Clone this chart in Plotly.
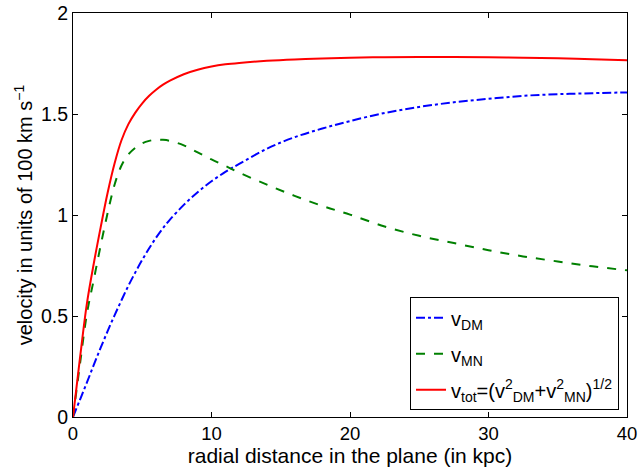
import plotly.graph_objects as go

# radial distance (kpc)
r = [0, 0.5, 1, 1.5, 2, 2.5, 3, 3.5, 4, 4.5, 5, 5.5, 6, 6.5, 7, 8, 9, 10, 11, 12,
     14, 16, 18, 20, 22.5, 25, 27.5, 30, 32.5, 35, 37.5, 40]

v_dm = [0, 0.085, 0.17, 0.258, 0.343, 0.425, 0.503, 0.578, 0.65, 0.716, 0.778, 0.835, 0.888,
        0.935, 0.977, 1.05, 1.113, 1.167, 1.213, 1.253,
        1.328, 1.385, 1.428, 1.465, 1.505, 1.535, 1.558, 1.575, 1.59, 1.598, 1.603, 1.607]

v_mn = [0, 0.26, 0.51, 0.68, 0.85, 1.01, 1.15, 1.245, 1.30, 1.333, 1.355, 1.367, 1.373,
        1.372, 1.367, 1.345, 1.31, 1.275, 1.243, 1.21,
        1.15, 1.095, 1.045, 1.002, 0.943, 0.897, 0.861, 0.826, 0.795, 0.770, 0.746, 0.726]

v_tot = [0, 0.29, 0.56, 0.76, 0.94, 1.11, 1.255, 1.37, 1.45, 1.507, 1.553, 1.59, 1.62,
         1.645, 1.665, 1.697, 1.719, 1.735, 1.746, 1.753,
         1.763, 1.77, 1.775, 1.779, 1.781, 1.782, 1.782, 1.781, 1.779, 1.776, 1.771, 1.766]

x_ticks = [0, 10, 20, 30, 40]
y_ticks = [0, 0.5, 1, 1.5, 2]
y_tick_labels = ["0", "0.5", "1", "1.5", "2"]

FONT = "Liberation Sans, Arial, Helvetica, sans-serif"

fig = go.Figure()
fig.add_trace(go.Scatter(x=r, y=v_dm, mode="lines", line_shape="spline",
                         name="v<sub>DM</sub>", legendgroup="a",
                         line=dict(color="#0000FF", width=2, dash="dashdot")))
fig.add_trace(go.Scatter(x=r, y=v_mn, mode="lines", line_shape="spline",
                         name="v<sub>MN</sub>", legendgroup="b",
                         line=dict(color="#008000", width=2, dash="dash")))
fig.add_trace(go.Scatter(x=r, y=v_tot, mode="lines", line_shape="spline",
                         name="v<sub>tot</sub>=(v<sup>2</sup><sub>DM</sub>+v<sup>2</sup><sub>MN</sub>)<sup>1/2</sup>",
                         legendgroup="c",
                         line=dict(color="#FF0000", width=2)))

axis_common = dict(showline=True, linecolor="black", linewidth=1, mirror="ticks",
                   ticks="inside", ticklen=5, tickcolor="black", showgrid=False,
                   zeroline=False, automargin=False)

fig.update_xaxes(range=[0, 40], tickvals=x_ticks,
                 tickfont=dict(size=18.5, color="black", family=FONT),
                 ticklabelstandoff=0,
                 title=dict(text="radial distance in the plane (in kpc)",
                            font=dict(size=21, color="black", family=FONT), standoff=1),
                 **axis_common)
fig.update_yaxes(range=[0, 2], tickvals=y_ticks, ticktext=y_tick_labels,
                 tickfont=dict(size=19.5, color="black", family=FONT),
                 title=dict(text="velocity in units of 100 km s<sup>−1</sup>",
                            font=dict(size=20, color="black", family=FONT), standoff=2),
                 **axis_common)

fig.update_layout(
    width=639, height=467,
    margin=dict(l=73, r=12, t=13, b=50, autoexpand=False),
    plot_bgcolor="white", paper_bgcolor="white",
    font=dict(family=FONT, color="black", size=19),
    legend=dict(x=0.9856, y=0.0166, xanchor="right", yanchor="bottom",
                bordercolor="black", borderwidth=1, bgcolor="white",
                font=dict(size=20, family=FONT, color="black"),
                tracegroupgap=7, traceorder="grouped"),
)

fig.write_html("out.html", config={"displayModeBar": False},
               post_script="document.body.style.margin='0';document.body.style.overflow='hidden';")
